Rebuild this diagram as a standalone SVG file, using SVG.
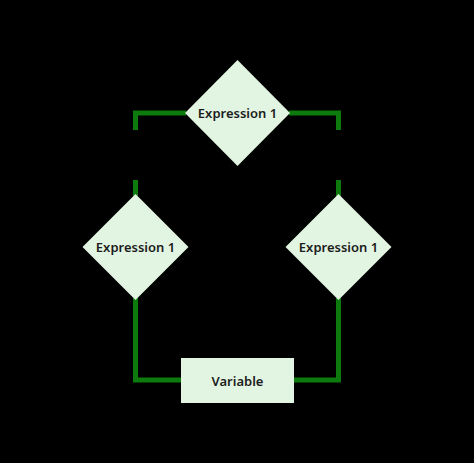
<svg xmlns="http://www.w3.org/2000/svg" width="474" height="463" viewBox="0 0 474 463">
<style>
.shape{fill:#e2f5e2;}
.lbl{font-family:"Noto Sans","Inter",sans-serif;font-weight:600;font-size:13px;fill:#1c1c1c;text-anchor:middle;dominant-baseline:central;}
.wire{fill:none;stroke:#0d7a0d;stroke-width:5;stroke-linejoin:miter;}
</style>
<rect width="474" height="463" fill="#000"/>
<g id="connectors">
<path class="wire" d="M186,113 H135.5 V130"/>
<path class="wire" d="M289,113 H338.5 V130"/>
<path class="wire" d="M135.5,180 V196"/>
<path class="wire" d="M338.5,180 V196"/>
<path class="wire" d="M135.5,298 V380 H182"/>
<path class="wire" d="M338.5,298 V380 H293"/>
</g>
<g id="top">
<polygon class="shape" points="237.5,60 290,113 237.5,166 185,113"/>
<text class="lbl" x="237.5" y="113">Expression 1</text>
</g>
<g id="left">
<polygon class="shape" points="135.5,194 188.5,247 135.5,300 82.5,247"/>
<text class="lbl" x="135.5" y="247">Expression 1</text>
</g>
<g id="right">
<polygon class="shape" points="338.5,194 391.5,247 338.5,300 285.5,247"/>
<text class="lbl" x="338.5" y="247">Expression 1</text>
</g>
<g id="variable">
<rect class="shape" x="181" y="358" width="113" height="45"/>
<text class="lbl" x="237.5" y="380.5">Variable</text>
</g>
</svg>
